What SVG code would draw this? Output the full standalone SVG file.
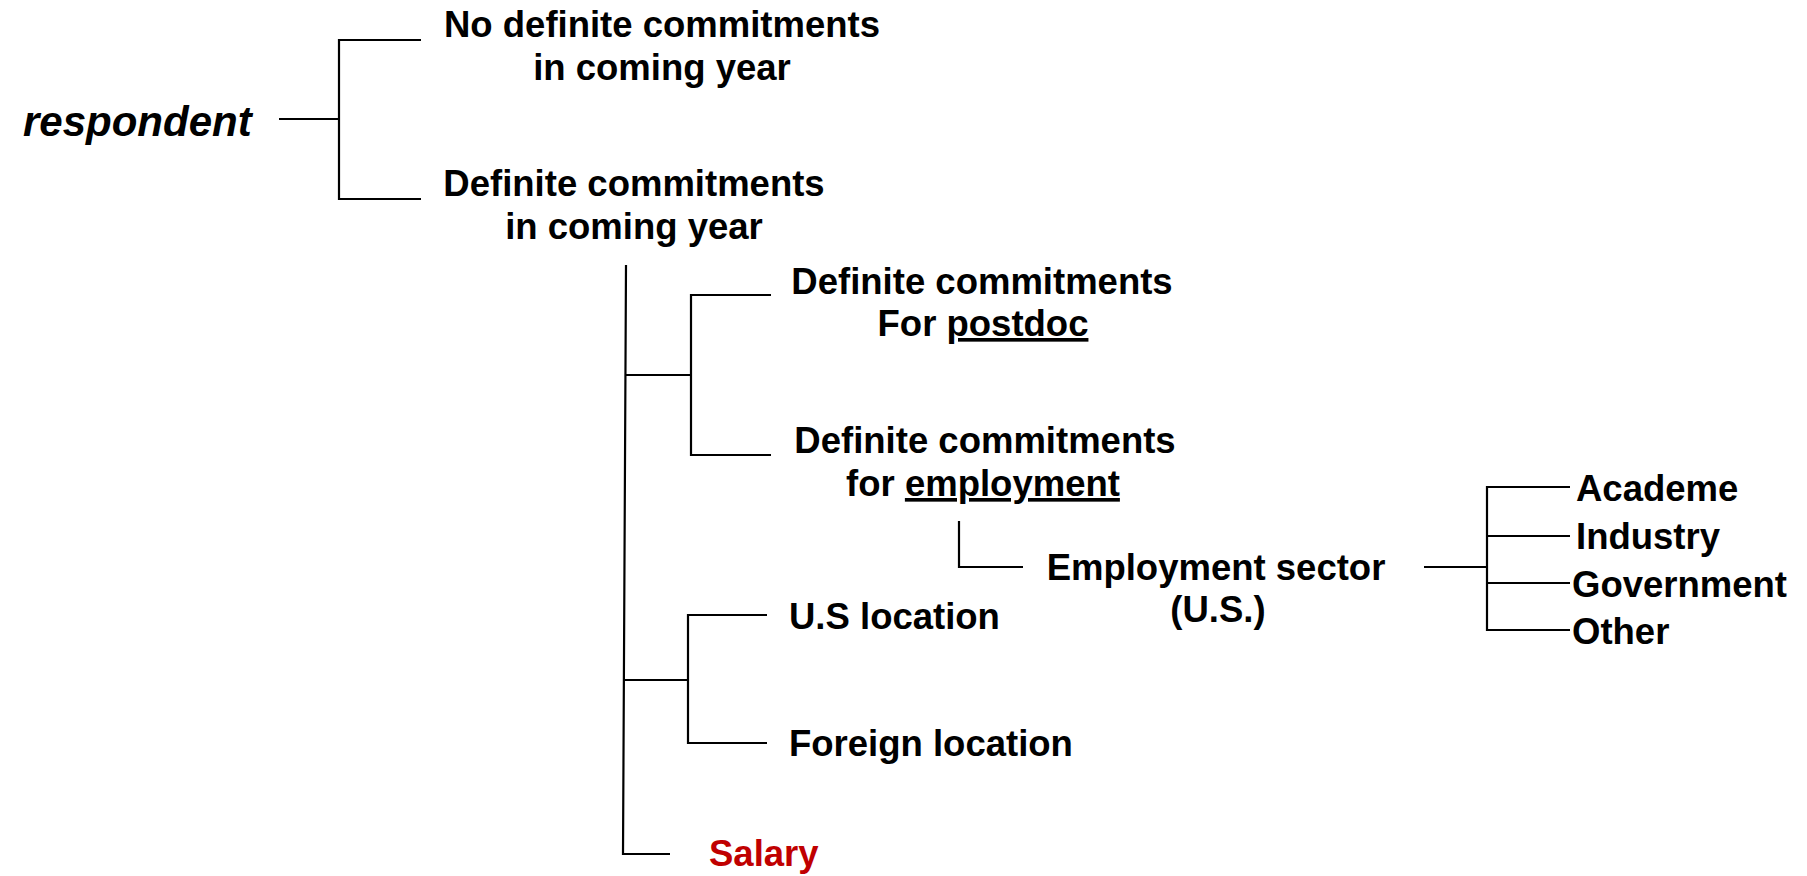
<svg xmlns="http://www.w3.org/2000/svg" width="1807" height="876" viewBox="0 0 1807 876">
<style>
.t{font-family:"Liberation Sans",Arial,sans-serif;font-weight:bold;font-size:36.5px;fill:#000}
.c{text-anchor:middle}
.r{font-size:42px;font-style:italic}
.red{fill:#C00000}
.u{text-decoration:underline}
.ln{stroke:#000;stroke-width:2.2;fill:none}
</style>
<rect width="1807" height="876" fill="#fff"/>
<g id="connectors" class="ln">
<path d="M279,119 H339 M421,40 H339 V199 H421"/>
<path d="M626,265 L623,854 H670"/>
<path d="M626,375 H691 M771,295 H691 V455 H771"/>
<path d="M623,680 H688 M767,615 H688 V743 H767"/>
<path d="M959,521 V567 H1023"/>
<path d="M1424,567 H1487 M1570,487 H1487 V630 H1570 M1487,536 H1570 M1487,583 H1570"/>
</g>
<g id="respondent"><text class="t r" x="23" y="136">respondent</text></g>
<g id="no-commit"><text class="t c" x="662" y="37">No definite commitments</text><text class="t c" x="662" y="80">in coming year</text></g>
<g id="commit"><text class="t c" x="634" y="196">Definite commitments</text><text class="t c" x="634" y="239">in coming year</text></g>
<g id="postdoc"><text class="t c" x="982" y="294">Definite commitments</text><text class="t c" x="983" y="336">For <tspan class="u">postdoc</tspan></text></g>
<g id="employment"><text class="t c" x="985" y="453">Definite commitments</text><text class="t c" x="983" y="496">for <tspan class="u">employment</tspan></text></g>
<g id="sector"><text class="t c" x="1216" y="580">Employment sector</text><text class="t c" x="1218" y="622">(U.S.)</text></g>
<g id="academe"><text class="t" x="1576" y="501">Academe</text></g>
<g id="industry"><text class="t" x="1576" y="549">Industry</text></g>
<g id="government"><text class="t" x="1572" y="597">Government</text></g>
<g id="other"><text class="t" x="1572" y="644">Other</text></g>
<g id="us-location"><text class="t" x="789" y="629">U.S location</text></g>
<g id="foreign-location"><text class="t" x="789" y="756">Foreign location</text></g>
<g id="salary"><text class="t red" x="709" y="866">Salary</text></g>
</svg>
